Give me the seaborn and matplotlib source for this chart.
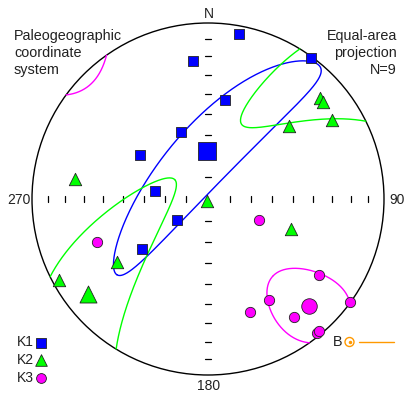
import numpy as np
import pandas as pd
import matplotlib
matplotlib.use("Agg")
import matplotlib.pyplot as plt
from matplotlib.patches import Circle
import seaborn as sns

# Principal susceptibility axes of the nine specimens (declination / inclination, degrees)
k1_dec = [10.7, 353.9, 36.1, 9.7, 337.6, 302.6, 278.9, 235.6, 232.6]
k1_inc = [5.3, 22.1, 1.2, 42.4, 56.3, 52.0, 65.0, 72.8, 51.2]
k2_dec = [278.4, 48.0, 49.9, 48.0, 57.6, 220.0, 110.1, 235.3, 241.5]
k2_inc = [24.8, 15.5, 15.9, 38.1, 17.4, 89.0, 48.4, 37.4, 4.3]
k3_dec = [248.7, 112.2, 124.5, 148.8, 125.8, 159.7, 143.75, 140.9, 140.0]
k3_inc = [32.8, 64.6, 24.7, 33.5, 0.5, 32.1, 18.2, 1.8, 2.4]

# Mean tensor axes K1, K2, K3
mean_dec = [358.8, 231.7, 136.7]
mean_inc = [67.8, 14.2, 17.4]

# Confidence ellipses about the mean axes: semi-angles (deg), index of the axis
# the major semi-axis points to, and a twist of the major axis (deg)
ell_major = [72.0, 70.0, 25.0]
ell_minor = [14.0, 16.0, 13.0]
ell_toward = [1, 0, 0]
ell_twist = [7.0, 0.0, 20.0]

axis_names = ["K1", "K2", "K3"]
colors = ["#0000FF", "#00FF00", "#FF00FF"]
markers = ["s", "^", "o"]
tick_incs = [10, 20, 30, 40, 50, 60, 70, 80]

W, H = 405, 396
CX, CY, RAD = 208, 199, 176


def vec(dec, inc):
    d, i = np.radians(dec), np.radians(inc)
    return np.array([np.cos(i) * np.cos(d), np.cos(i) * np.sin(d), np.sin(i)])


def project(v):
    """Lower-hemisphere equal-area (Schmidt) projection, unit primitive circle."""
    v = np.atleast_2d(v)
    flip = v[:, 2] < 0
    v = np.where(flip[:, None], -v, v)
    s = 1.0 / np.sqrt(1.0 + v[:, 2])
    return v[:, 1] * s, v[:, 0] * s, flip


def ellipse(m, toward, other, a, b, twist, n=1441):
    u = toward - m * np.dot(toward, m)
    u /= np.linalg.norm(u)
    w = other - m * np.dot(other, m) - u * np.dot(other, u)
    w /= np.linalg.norm(w)
    tw = np.radians(twist)
    u, w = np.cos(tw) * u + np.sin(tw) * w, -np.sin(tw) * u + np.cos(tw) * w
    a, b = np.radians(a), np.radians(b)
    t = np.linspace(0, 2 * np.pi, n)
    rho = a * b / np.sqrt((b * np.cos(t)) ** 2 + (a * np.sin(t)) ** 2)
    pts = (np.cos(rho)[:, None] * m
           + np.sin(rho)[:, None] * (np.cos(t)[:, None] * u + np.sin(t)[:, None] * w))
    x, y, flip = project(pts)
    seg = np.concatenate([[0], np.cumsum(flip[1:] != flip[:-1])])
    return pd.DataFrame({"x": x, "y": y, "seg": seg})


sns.set_theme(style="white")
plt.rcParams["font.family"] = ["Liberation Sans", "DejaVu Sans"]

fig = plt.figure(figsize=(W / 100, H / 100), dpi=100)
ax = fig.add_axes([0, 0, 1, 1])
ax.set_xlim(-CX / RAD, (W - CX) / RAD)
ax.set_ylim(-(H - CY) / RAD, CY / RAD)
ax.set_aspect("equal")
ax.axis("off")

# primitive circle
ax.add_patch(Circle((0, 0), 1.0, fill=False, ec="black", lw=1.0, zorder=2))

# inclination ticks every 10 degrees along the N-S and E-W diameters
tl = 3.0 / RAD
for inc in tick_incs:
    r = np.sqrt(1 - np.sin(np.radians(inc)))
    for s in (-1, 1):
        ax.plot([s * r, s * r], [-tl, tl], color="black", lw=0.9, zorder=2)
        ax.plot([-tl, tl], [s * r, s * r], color="black", lw=0.9, zorder=2)

# confidence ellipses
mvecs = [vec(d, i) for d, i in zip(mean_dec, mean_inc)]
for k in range(3):
    other = [j for j in range(3) if j not in (k, ell_toward[k])][0]
    df = ellipse(mvecs[k], mvecs[ell_toward[k]], mvecs[other],
                 ell_major[k], ell_minor[k], ell_twist[k])
    sns.lineplot(data=df, x="x", y="y", units="seg", estimator=None, sort=False,
                 color=colors[k], lw=1.0, ax=ax, zorder=3, legend=False)

# specimen axes and mean axes
groups = [(k1_dec, k1_inc), (k2_dec, k2_inc), (k3_dec, k3_inc)]
small = [60, 80, 55]
large = [150, 150, 125]
for k, (decs, incs) in enumerate(groups):
    x, y, _ = project(np.array([vec(d, i) for d, i in zip(decs, incs)]))
    sns.scatterplot(x=x, y=y, marker=markers[k], s=small[k], color=colors[k],
                    edgecolor="#222222", linewidth=0.6, ax=ax, zorder=4, legend=False)
    mx, my, _ = project(mvecs[k])
    sns.scatterplot(x=mx, y=my, marker=markers[k], s=large[k], color=colors[k],
                    edgecolor="#222222", linewidth=0.6, ax=ax, zorder=5, legend=False)


def px(xp, yp):
    return (xp - CX) / RAD, (CY - yp) / RAD


fs = 10
ax.text(*px(209, 14), "N", ha="center", va="center", fontsize=fs, color="#222222")
ax.text(*px(19, 200), "270", ha="center", va="center", fontsize=fs, color="#222222")
ax.text(*px(397, 200), "90", ha="center", va="center", fontsize=fs, color="#222222")
ax.text(*px(209, 386), "180", ha="center", va="center", fontsize=fs, color="#222222")
ax.text(*px(14, 29), "Paleogeographic\ncoordinate\nsystem", ha="left", va="top",
        fontsize=10.4, linespacing=1.27, color="#222222")
ax.text(*px(397, 29), "Equal-area\nprojection\nN=9", ha="right", va="top",
        multialignment="right", fontsize=10.4, linespacing=1.27, color="#222222")

# legend
leg_y = [342.5, 359.5, 377.5]
leg_s = [60, 70, 50]
for k in range(3):
    ax.text(*px(17, leg_y[k]), axis_names[k], ha="left", va="center",
            fontsize=fs, color="#222222")
    lx, ly = px(41, leg_y[k])
    sns.scatterplot(x=[lx], y=[ly], marker=markers[k], s=leg_s[k], color=colors[k],
                    edgecolor="#222222", linewidth=0.6, ax=ax, zorder=5, legend=False)

# bedding symbol
orange = "#FF9900"
ax.text(*px(337.5, 342), "B", ha="center", va="center", fontsize=10.4, color="#222222")
bx, by = px(349.5, 342)
ax.add_patch(Circle((bx, by), 4.5 / RAD, fill=False, ec=orange, lw=1.0))
ax.plot([bx], [by], marker="o", ms=1.5, color=orange)
ax.plot([px(359, 342)[0], px(394, 342)[0]], [by, by], color=orange, lw=1.0)

fig.savefig("out.png", dpi=100)
